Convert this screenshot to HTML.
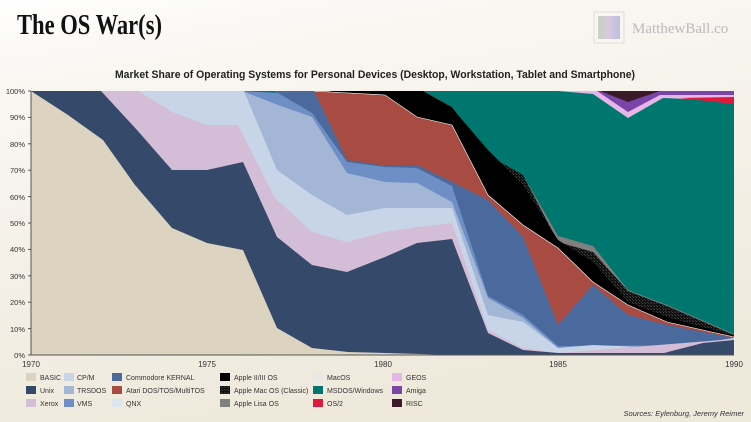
<!DOCTYPE html>
<html><head><meta charset="utf-8"><style>
body{margin:0;width:751px;height:422px;overflow:hidden;background:#fff;}
svg{display:block}
text{font-family:"Liberation Sans",sans-serif;}
</style></head><body>
<svg width="751" height="422" viewBox="0 0 751 422" xmlns="http://www.w3.org/2000/svg">
<defs>
<linearGradient id="bg" x1="0" y1="0" x2="0.3" y2="1">
<stop offset="0" stop-color="#ffffff"/><stop offset="0.15" stop-color="#faf8f4"/><stop offset="1" stop-color="#efe9dc"/>
</linearGradient>
<pattern id="hatch" width="3" height="3" patternUnits="userSpaceOnUse">
<rect width="3" height="3" fill="#111"/><rect width="1" height="1" fill="#444"/><rect x="2" y="2" width="1" height="1" fill="#3a3a3a"/>
</pattern>
<linearGradient id="logo" x1="0" x2="1"><stop offset="0" stop-color="#c8d4c0"/><stop offset="0.5" stop-color="#d8c8e0"/><stop offset="1" stop-color="#b8c0e0"/></linearGradient>
</defs>
<rect width="751" height="422" fill="url(#bg)"/>
<text x="17" y="34" font-size="29" font-weight="bold" fill="#111" style="font-family:'Liberation Serif',serif" textLength="145" lengthAdjust="spacingAndGlyphs">The OS War(s)</text>
<rect x="594" y="12" width="30" height="31" fill="none" stroke="#ddd" stroke-width="1"/>
<rect x="598" y="16" width="22" height="23" fill="url(#logo)"/>
<text x="632" y="33" font-size="15" fill="#bbb" style="font-family:'Liberation Serif',serif">MatthewBall.co</text>
<text x="375" y="78" font-size="11" font-weight="bold" fill="#222" text-anchor="middle" textLength="520" lengthAdjust="spacingAndGlyphs">Market Share of Operating Systems for Personal Devices (Desktop, Workstation, Tablet and Smartphone)</text>

<g>
<rect x="31" y="91" width="703" height="264" fill="#00776e"/>
<polygon points="558,91 734,91 734,101 663,98 628,118 593,94" fill="#e6b6e6"/>
<polygon points="597,91 734,91 734,95 660,95 628,112" fill="#7a44a8"/>
<polygon points="600,91 660,91 628,102" fill="#3a1a28"/>
<polygon points="680,98 734,97 734,104" fill="#e0183b"/>
<polygon points="423,91 452,107 488,155 523,175 558,236 593,246 628,290 667,305 734,334 734,355 423,355" fill="#808080"/>
<polygon points="423,91 452,107 488,155 523,175 558,242 593,252 628,291 667,306 734,335 734,355 423,355" fill="url(#hatch)"/>
<polygon points="330,91 423,91 452,108 488,150 523,185 558,240 593,262 628,302 667,317 734,336 734,355 330,355" fill="#000"/>
<polygon points="312,91 385,95 417,117 452,125 488,195 523,225 558,248 593,282 628,305 667,322 734,337 734,355 312,355" fill="#a84c43" stroke="#fff" stroke-width="0.6"/>
<polygon points="275,91 314,91 347,160 380,165 417,165 452,182 488,200 523,237 558,325 593,285 628,315 667,325 734,338 734,355 275,355" fill="#4a6a9e"/>
<polygon points="242,91 278,93 312,113 347,162 385,167 417,168 452,186 488,296 523,315 558,346 734,345 734,355 242,355" fill="#6d8fc6"/>
<polygon points="242,91 278,105 312,117 347,173 385,182 417,183 452,202 488,298 523,318 558,348 734,347 734,355 242,355" fill="#a3b6d6"/>
<polygon points="135,91 244,91 277,170 312,195 347,215 385,208 452,208 488,315 523,322 558,348 593,345 667,348 734,338 734,355 135,355" fill="#c8d5e8"/>
<polygon points="98,91 138,91 172,112 207,125 238,125 275,198 312,232 347,242 385,232 417,227 452,223 488,330 523,348 558,353 734,339 734,355 98,355" fill="#d4bdd6"/>
<polygon points="31,91 101,91 137,130 172,170 207,170 243,162 277,237 312,265 347,272 385,257 417,243 452,239 488,333 523,350 558,353 664,353 703,343 734,340 734,355 31,355" fill="#354a6b"/>
<polygon points="31,91 68,115 103,140 135,185 172,228 207,243 243,250 277,328 312,348 348,352 385,353 453,355 31,355" fill="#dcd3c0"/>
</g>
<g stroke="#555" stroke-width="1">
<line x1="31" y1="91" x2="31" y2="355"/><line x1="31" y1="355" x2="734" y2="355"/>
<line x1="28" y1="91" x2="31" y2="91"/><line x1="28" y1="117.4" x2="31" y2="117.4"/><line x1="28" y1="143.8" x2="31" y2="143.8"/><line x1="28" y1="170.2" x2="31" y2="170.2"/><line x1="28" y1="196.6" x2="31" y2="196.6"/><line x1="28" y1="223" x2="31" y2="223"/><line x1="28" y1="249.4" x2="31" y2="249.4"/><line x1="28" y1="275.8" x2="31" y2="275.8"/><line x1="28" y1="302.2" x2="31" y2="302.2"/><line x1="28" y1="328.6" x2="31" y2="328.6"/><line x1="28" y1="355" x2="31" y2="355"/>
</g>
<g font-size="7.5" fill="#333" text-anchor="end">
<text x="25" y="94">100%</text><text x="25" y="120">90%</text><text x="25" y="147">80%</text><text x="25" y="173">70%</text><text x="25" y="200">60%</text><text x="25" y="226">50%</text><text x="25" y="252">40%</text><text x="25" y="279">30%</text><text x="25" y="305">20%</text><text x="25" y="332">10%</text><text x="25" y="358">0%</text>
</g>
<g font-size="8" fill="#333" text-anchor="middle">
<text x="31" y="367">1970</text><text x="207" y="367">1975</text><text x="383" y="367">1980</text><text x="558" y="367">1985</text><text x="734" y="367">1990</text>
</g>
<g font-size="7" fill="#333">
<rect x="26" y="373" width="10" height="8" fill="#dcd3c0"/><text x="40" y="380">BASIC</text>
<rect x="26" y="386" width="10" height="8" fill="#354a6b"/><text x="40" y="393">Unix</text>
<rect x="26" y="399" width="10" height="8" fill="#d4bdd6"/><text x="40" y="406">Xerox</text>
<rect x="64" y="373" width="10" height="8" fill="#c8d5e8"/><text x="77" y="380">CP/M</text>
<rect x="64" y="386" width="10" height="8" fill="#a3b6d6"/><text x="77" y="393">TRSDOS</text>
<rect x="64" y="399" width="10" height="8" fill="#6d8fc6"/><text x="77" y="406">VMS</text>
<rect x="112" y="373" width="10" height="8" fill="#4a6a9e"/><text x="126" y="380">Commodore KERNAL</text>
<rect x="112" y="386" width="10" height="8" fill="#a84c43"/><text x="126" y="393">Atari DOS/TOS/MultiTOS</text>
<rect x="112" y="399" width="10" height="8" fill="#dde5f1"/><text x="126" y="406">QNX</text>
<rect x="220" y="373" width="10" height="8" fill="#000"/><text x="234" y="380">Apple II/III OS</text>
<rect x="220" y="386" width="10" height="8" fill="url(#hatch)"/><text x="234" y="393">Apple Mac OS (Classic)</text>
<rect x="220" y="399" width="10" height="8" fill="#808080"/><text x="234" y="406">Apple Lisa OS</text>
<rect x="313" y="373" width="10" height="8" fill="#e8e8e8"/><text x="327" y="380">MacOS</text>
<rect x="313" y="386" width="10" height="8" fill="#00776e"/><text x="327" y="393">MSDOS/Windows</text>
<rect x="313" y="399" width="10" height="8" fill="#e0183b"/><text x="327" y="406">OS/2</text>
<rect x="392" y="373" width="10" height="8" fill="#e6b6e6"/><text x="406" y="380">GEOS</text>
<rect x="392" y="386" width="10" height="8" fill="#7a44a8"/><text x="406" y="393">Amiga</text>
<rect x="392" y="399" width="10" height="8" fill="#3a1a28"/><text x="406" y="406">RISC</text>
</g>
<text x="744" y="416" font-size="7.5" font-style="italic" fill="#333" text-anchor="end">Sources: Eylenburg, Jeremy Reimer</text>
</svg>
</body></html>
